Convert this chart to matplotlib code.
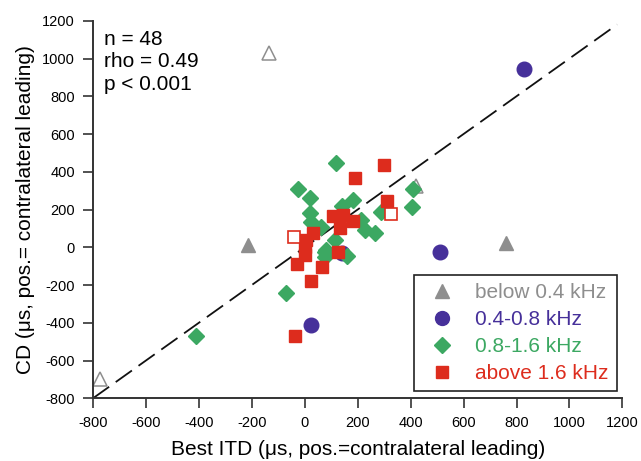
import numpy as np
import matplotlib
matplotlib.use("Agg")
import matplotlib.pyplot as plt
from matplotlib.lines import Line2D

plt.rcParams['font.family'] = ['Liberation Sans', 'DejaVu Sans']
plt.rcParams['axes.unicode_minus'] = False

# below 0.4 kHz (gray triangles)
gray_x = [-215, 760]
gray_y = [10, 25]
gray_open_x = [-135, -775, 420]
gray_open_y = [1030, -700, 325]

# 0.4-0.8 kHz (purple circles)
purple_x = [830, 510, 25, 140]
purple_y = [945, -25, -410, -30]

# 0.8-1.6 kHz (green diamonds)
green_x = [120, -25, 20, 20, 25, 62, 140, 182, 287, 212, 227, 265, 115, 77,
           160, 410, 405, -70, -410, 80, 75]
green_y = [445, 310, 260, 180, 135, 107, 220, 250, 187, 145, 90, 75, 40, -25,
           -45, 310, 215, -240, -470, -15, -50]

# above 1.6 kHz (red squares)
red_x = [300, 190, 311, 105, 145, 182, 132, 30, 5, 0, 0, -30, 125, 65, 25, -35]
red_y = [435, 368, 245, 165, 170, 140, 100, 75, 40, 0, -40, -90, -25, -105,
         -180, -470]
red_open_x = [325, -40]
red_open_y = [175, 55]

c_gray = '#8e8e8e'
c_purple = '#46309a'
c_green = '#3ca862'
c_red = '#dd2c1d'

fig = plt.figure(figsize=(6.41, 4.61), dpi=100)
ax = fig.add_axes([0.145, 0.136, 0.826, 0.819])

ax.plot([-800, 1180], [-800, 1180], color='#111111', lw=1.3,
        dashes=(11, 4.5), zorder=1)

ax.plot(gray_open_x, gray_open_y, '^', ms=10, mfc='white', mec=c_gray,
        mew=1.1, ls='none', zorder=2)
ax.plot(gray_x, gray_y, '^', ms=10, mfc=c_gray, mec=c_gray, ls='none', zorder=2)
ax.plot(purple_x, purple_y, 'o', ms=10.5, mfc=c_purple, mec=c_purple,
        ls='none', zorder=3)
ax.plot(green_x, green_y, 'D', ms=8, mfc=c_green, mec=c_green, ls='none',
        zorder=4)
ax.plot(red_x, red_y, 's', ms=8.6, mfc=c_red, mec=c_red, ls='none', zorder=5)
ax.plot(red_open_x, red_open_y, 's', ms=8.2, mfc='white', mec=c_red,
        mew=1.2, ls='none', zorder=5)

ax.set_xlim(-800, 1200)
ax.set_ylim(-800, 1200)
ax.set_xticks(np.arange(-800, 1201, 200))
ax.set_yticks(np.arange(-800, 1201, 200))
for s in ['top', 'right']:
    ax.spines[s].set_visible(False)
for s in ['left', 'bottom']:
    ax.spines[s].set_color('#333333')
    ax.spines[s].set_linewidth(1.4)
ax.tick_params(direction='out', length=7, width=1.2, color='#333333',
               labelsize=10.5, pad=6)

ax.set_xlabel('Best ITD (μs, pos.=contralateral leading)', fontsize=15,
              labelpad=7)
ax.set_ylabel('CD (μs, pos.= contralateral leading)', fontsize=15, labelpad=5)

ax.text(0.02, 0.975, 'n = 48\nrho = 0.49\np < 0.001', transform=ax.transAxes,
        fontsize=15, va='top', ha='left', linespacing=1.22)

handles = [
    Line2D([], [], marker='^', color=c_gray, ls='none', ms=10),
    Line2D([], [], marker='o', color=c_purple, ls='none', ms=10),
    Line2D([], [], marker='D', color=c_green, ls='none', ms=8),
    Line2D([], [], marker='s', color=c_red, ls='none', ms=8),
]
labels = ['below 0.4 kHz', '0.4-0.8 kHz', '0.8-1.6 kHz', 'above 1.6 kHz']
leg = ax.legend(handles, labels, loc='lower right',
                bbox_to_anchor=(0.989, 0.019), fontsize=15, frameon=True,
                fancybox=False, edgecolor='#222222', framealpha=1,
                borderpad=0.4, handlelength=1.8, handletextpad=0.7,
                labelspacing=0.38, borderaxespad=0)
leg.get_frame().set_linewidth(1.2)
for t, c in zip(leg.get_texts(), [c_gray, c_purple, c_green, c_red]):
    t.set_color(c)

fig.savefig('out.png', dpi=100)
